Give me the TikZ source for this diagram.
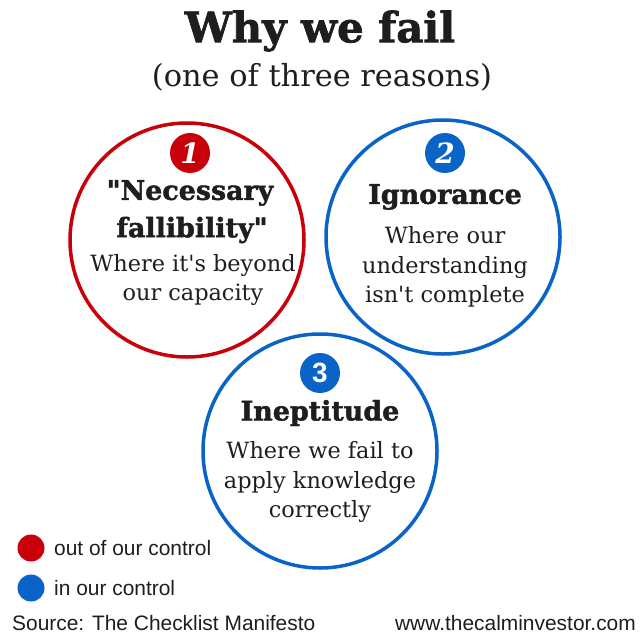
\documentclass[tikz,border=0pt]{standalone}
\usepackage{fontspec}
\setmainfont{DejaVu Serif}[Ligatures=TeXOff]
\newfontfamily\headfont{DejaVu Serif Bold}[FakeBold=1.6]
\newfontfamily\numfont{DejaVu Serif Bold Italic}
\newfontfamily\sansf{Liberation Sans}
\definecolor{cred}{HTML}{C8000A}
\definecolor{cblue}{HTML}{0A64C8}
\definecolor{ink}{HTML}{1E1E1E}
\begin{document}
\begin{tikzpicture}[x=1bp,y=-1bp,
  ring/.style={circle,draw=#1,line width=3.5bp,minimum size=234bp,inner sep=0pt},
  badge/.style={circle,fill=#1,minimum size=40bp,inner sep=0pt,text=white},
  headtxt/.style={text=ink,font=\headfont\fontsize{27}{30}\selectfont,inner sep=0pt},
  bodytxt/.style={text=ink,font=\fontsize{22.5}{29.5}\selectfont,align=center,inner sep=0pt},
  sanstxt/.style={text=ink,font=\sansf\fontsize{21}{22}\selectfont,inner sep=0pt},
  dot/.style={circle,fill=#1,minimum size=27bp,inner sep=0pt}]
\useasboundingbox (0,0) rectangle (640,640);
\fill[white] (0,0) rectangle (640,640);
\node[text=ink,font=\headfont\fontsize{42}{46}\selectfont,inner sep=0pt] (title) at (320,31) {Why we fail};
\node[text=ink,font=\fontsize{30.5}{32}\selectfont,inner sep=0pt] (sub) at (322,77) {(one of three reasons)};
% circles
\node[ring=cred] (c1) at (187,240) {};
\node[ring=cblue] (c2) at (443,237) {};
\node[ring=cblue] (c3) at (320,451) {};
% badges
\node[badge=cred,font=\numfont\fontsize{28}{28}\selectfont] (b1) at (190,153) {1};
\node[badge=cblue,font=\numfont\fontsize{28}{28}\selectfont] (b2) at (445,153) {2};
\node[badge=cblue,font=\sansf\bfseries\fontsize{28}{28}\selectfont] (b3) at (320,373) {3};
% texts circle 1
\node[headtxt] (h1a) at (190,193) {"Necessary};
\node[headtxt] (h1b) at (192,230) {fallibility"};
\node[bodytxt] (t1) at (193,280) {Where it's beyond\\our capacity};
% circle 2
\node[headtxt] (h2) at (445,197) {Ignorance};
\node[bodytxt] (t2) at (445,267) {Where our\\understanding\\isn't complete};
% circle 3
\node[headtxt] (h3) at (320,413) {Ineptitude};
\node[bodytxt] (t3) at (320,482) {Where we fail to\\apply knowledge\\correctly};
% legend
\node[dot=cred] (d1) at (31,548) {};
\node[sanstxt,anchor=west] (l1) at (54,548) {out of our control};
\node[dot=cblue] (d2) at (31,588) {};
\node[sanstxt,anchor=west] (l2) at (54,588) {in our control};
\node[sanstxt,anchor=west] (src) at (12,623) {Source: The Checklist Manifesto};
\node[sanstxt,anchor=east] (web) at (636,623) {www.thecalminvestor.com};
\end{tikzpicture}
\end{document}
